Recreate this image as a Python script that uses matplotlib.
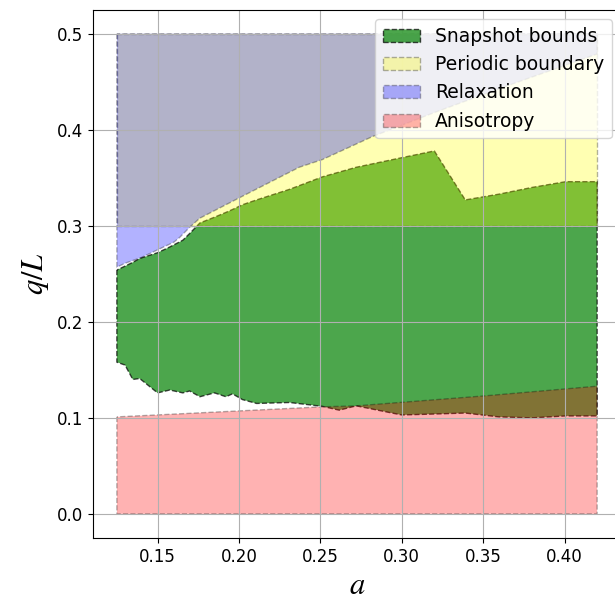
import numpy as np
import matplotlib
matplotlib.use('Agg')
import matplotlib.pyplot as plt

plt.rcParams['mathtext.fontset'] = 'stix'

# ── data ──────────────────────────────────────────────────
# snapshot bounds: lower / upper edge of the green region
snap_x = [0.125, 0.1250, 0.130, 0.1348, 0.139, 0.150, 0.1575, 0.1655, 0.1697, 0.176,
          0.185, 0.192, 0.196, 0.2022, 0.2108, 0.231, 0.2512, 0.2616, 0.272,
          0.300, 0.320, 0.339, 0.3597, 0.380, 0.4007, 0.42]
snap_lo = [0.254, 0.158, 0.155, 0.140, 0.141, 0.126, 0.129, 0.126, 0.128, 0.122,
           0.126, 0.122, 0.125, 0.119, 0.115, 0.116, 0.112, 0.108, 0.1125,
           0.103, 0.104, 0.105, 0.101, 0.100, 0.102, 0.102]
snap_hi = [0.254, 0.254, 0.258, 0.262, 0.266, 0.272, 0.278, 0.285, 0.292, 0.303,
           0.309, 0.314, 0.317, 0.322, 0.327, 0.338, 0.351, 0.356, 0.361,
           0.371, 0.378, 0.327, 0.333, 0.340, 0.346, 0.346]

# periodic boundary: band between 0.3 and 0.5
per_x = [0.125, 0.42]
per_lo = [0.3, 0.3]
per_hi = [0.5, 0.5]

# relaxation: from lower curve up to 0.5
rel_x = [0.125, 0.130, 0.140, 0.150, 0.160, 0.1636, 0.170, 0.176, 0.200,
         0.237, 0.2512, 0.282, 0.32, 0.36, 0.40, 0.42]
rel_lo = [0.257, 0.261, 0.267, 0.275, 0.283, 0.288, 0.299, 0.308, 0.329,
          0.361, 0.369, 0.393, 0.418, 0.443, 0.467, 0.479]
rel_hi = [0.5] * len(rel_x)

# anisotropy: from 0 up to upper curve
ani_x = [0.125, 0.2512, 0.272, 0.3517, 0.42]
ani_hi = [0.101, 0.1115, 0.1125, 0.123, 0.133]
ani_lo = [0.0] * len(ani_x)

# ── plot ──────────────────────────────────────────────────
fig = plt.figure(figsize=(6.15, 6.14), dpi=100)
ax = fig.add_axes([0.151, 0.124, 0.859, 0.860])

ax.fill_between(snap_x, snap_lo, snap_hi, facecolor='green', edgecolor='k',
                alpha=0.7, linestyle='--', label='Snapshot bounds')
ax.fill_between(per_x, per_lo, per_hi, facecolor='yellow', edgecolor='k',
                alpha=0.3, linestyle='--', label='Periodic boundary')
ax.fill_between(rel_x, rel_lo, rel_hi, facecolor='blue', edgecolor='k',
                alpha=0.3, linestyle='--', label='Relaxation')
ax.fill_between(ani_x, ani_lo, ani_hi, facecolor='red', edgecolor='k',
                alpha=0.3, linestyle='--', label='Anisotropy')

ax.set_xticks([0.15, 0.20, 0.25, 0.30, 0.35, 0.40])
ax.set_yticks([0.0, 0.1, 0.2, 0.3, 0.4, 0.5])
ax.tick_params(labelsize=12)
ax.grid(True)
ax.set_xlabel('$a$', fontsize=22)
ax.set_ylabel('$q/L$', fontsize=22)
ax.legend(loc='upper right', fontsize=13.5)

fig.savefig('out.png', dpi=100)
